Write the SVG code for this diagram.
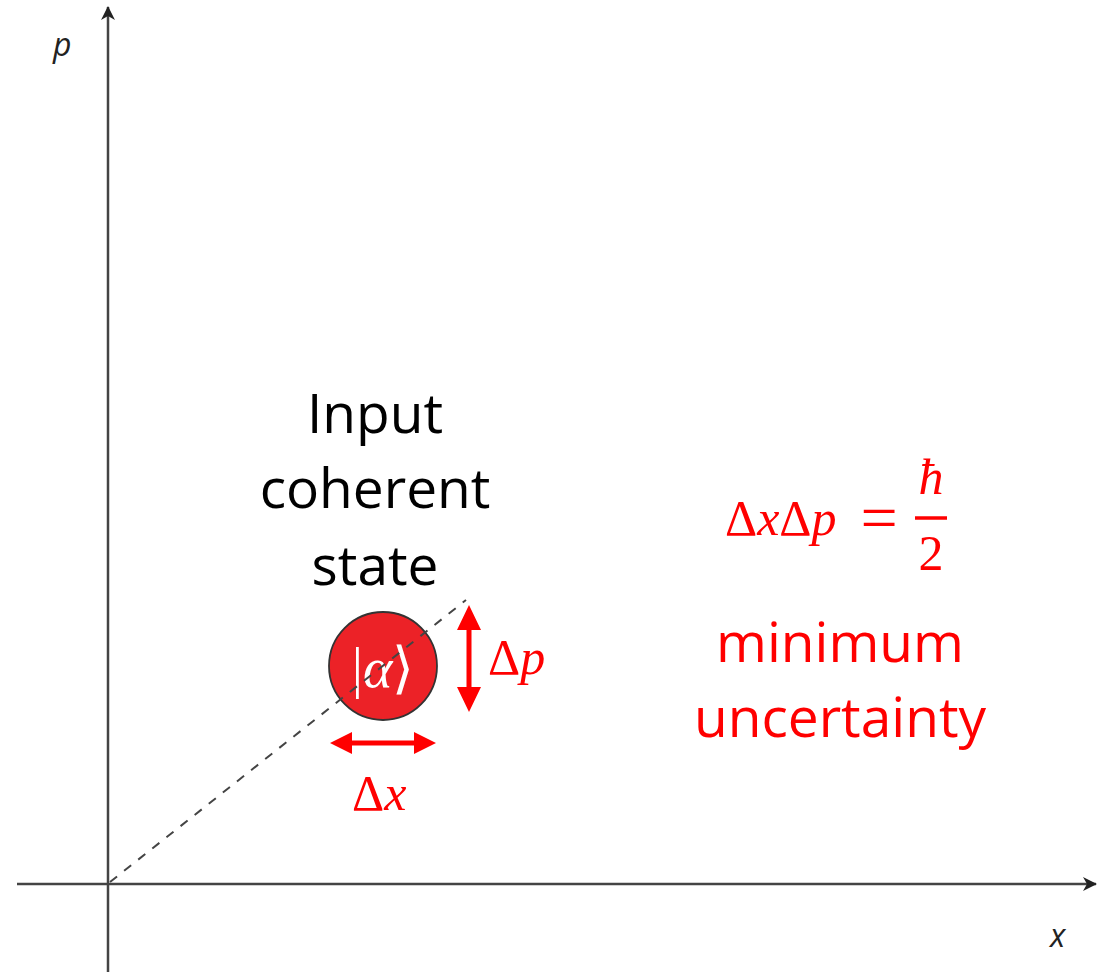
<svg xmlns="http://www.w3.org/2000/svg" width="1109" height="972" viewBox="0 0 1109 972">
<style>
.axis{stroke:#444;stroke-width:2.5;fill:none}
.lbl{font-family:"Open Sans","Liberation Sans",sans-serif;font-style:italic;font-size:32px;fill:#222}
.black{font-family:"Open Sans","Liberation Sans",sans-serif;font-size:55px;fill:#000;text-anchor:middle}
.red{font-family:"Open Sans","Liberation Sans",sans-serif;font-size:55px;fill:#FF0000;text-anchor:middle}
.math{font-family:"Liberation Serif","DejaVu Serif",serif;font-size:50px;fill:#FF0000}
.it{font-style:italic}
.rarrow{fill:#FF0000}
</style>
<defs>
<marker id="ax" viewBox="0 0 14 14" refX="13" refY="7" markerWidth="14" markerHeight="14" markerUnits="userSpaceOnUse" orient="auto">
<path d="M0,0 L14,7 L0,14 L4,7 Z" fill="#222"/>
</marker>
</defs>
<g id="coherent-state">
<circle cx="383" cy="666" r="54" fill="#EC2227" stroke="#333" stroke-width="1.8"/>
<text x="383" y="687" font-family="Liberation Serif,serif" font-size="56" fill="#fff" text-anchor="middle">|<tspan font-style="italic">α</tspan>⟩</text>
</g>
<g id="connectors">
<line class="axis" x1="108" y1="972" x2="108" y2="7" marker-end="url(#ax)"/>
<line class="axis" x1="17" y1="884" x2="1096" y2="884" marker-end="url(#ax)"/>
<line x1="110" y1="882" x2="466" y2="600" stroke="#444" stroke-width="2" stroke-dasharray="9,9"/>
<path class="rarrow" d="M469,605 L481,630 L471.5,630 L471.5,687 L481,687 L469,712 L457,687 L466.5,687 L466.5,630 L457,630 Z"/>
<path class="rarrow" d="M330,743 L352,732 L352,740.5 L414,740.5 L414,732 L436,743 L414,754 L414,745.5 L352,745.5 L352,754 Z"/>
</g>
<g id="axis-labels">
<text class="lbl" x="53" y="56">p</text>
<text class="lbl" x="1050" y="947">x</text>
</g>
<g id="state-label">
<text class="black" x="375" y="433">Input</text>
<text class="black" x="375" y="508">coherent</text>
<text class="black" x="375" y="585">state</text>
</g>
<g id="dp-label"><text class="math" x="488" y="674">Δ<tspan class="it">p</tspan></text></g>
<g id="dx-label"><text class="math" x="352" y="810">Δ<tspan class="it">x</tspan></text></g>
<g id="formula">
<text class="math" x="725" y="535">Δ<tspan class="it">x</tspan>Δ<tspan class="it">p</tspan></text>
<text class="math" x="879" y="540" text-anchor="middle" style="font-size:66px">=</text>
<line x1="915" y1="518" x2="947" y2="518" stroke="#FF0000" stroke-width="3.5"/>
<text class="math it" x="931" y="494" text-anchor="middle">ħ</text>
<text class="math" x="931" y="570" text-anchor="middle">2</text>
</g>
<g id="min-label">
<text class="red" x="840" y="662">minimum</text>
<text class="red" x="840" y="737">uncertainty</text>
</g>
</svg>
